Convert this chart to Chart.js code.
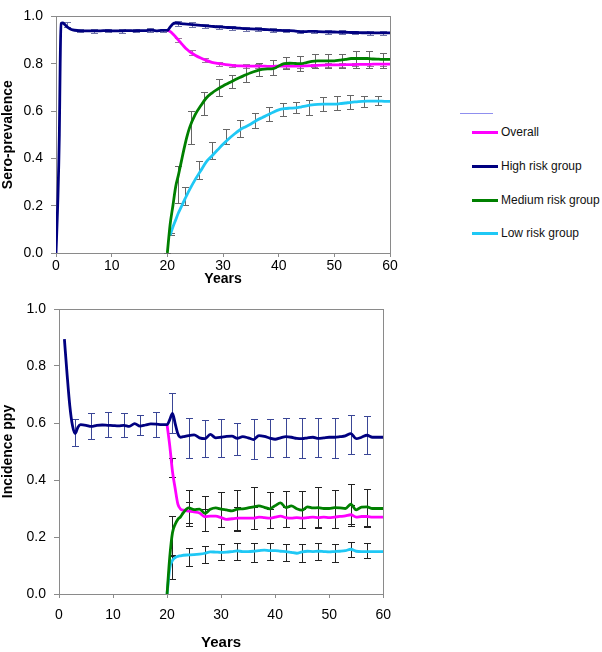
<!DOCTYPE html>
<html>
<head>
<meta charset="utf-8">
<script src="https://cdn.jsdelivr.net/npm/chart.js@4"></script>
<style>
  body { margin: 0; background: #fff; width: 602px; height: 652px; position: relative; overflow: hidden;
         font-family: "Liberation Sans", Arial, sans-serif; }
  #topChart { position: absolute; left: 0; top: 0; }
  #bottomChart { position: absolute; left: 0; top: 290px; }
  .legLine { position: absolute; height: 3px; width: 26px; left: 472px; }
  .legText { position: absolute; left: 501px; font-size: 12px; color: #111; line-height: 14px; }
</style>
</head>
<body>
<canvas id="topChart" width="400" height="290"></canvas>
<canvas id="bottomChart" width="400" height="362"></canvas>
<div id="legend"></div>
<script>
// series names + colours (legend order)
const seriesNames = ['Overall', 'High risk group', 'Medium risk group', 'Low risk group'];
const seriesColors = ['#FF00FF', '#000080', '#008000', '#1FC8F5'];

// ---- top chart: sero-prevalence ----
const yearsTopHigh = [0, 0.3, 0.6, 0.75, 0.9, 1.2, 1.6, 2, 2.5, 3,
  4, 5, 6, 7, 8, 9, 10, 11, 12, 13, 14, 15, 16, 17, 18, 19, 20,
  20.5, 21, 21.5, 22, 22.5, 23, 23.5, 24,
  25, 26, 27, 28, 29, 30, 31, 32, 33, 34, 35, 36, 37, 38, 39, 40, 41, 42,
  43, 44, 45, 46, 47, 48, 49, 50, 51, 52, 53, 54, 55, 56, 57, 58, 59, 60];
const highTop = [0, 0.2, 0.5, 0.8, 0.97, 0.972, 0.965, 0.956, 0.948, 0.943,
  0.94, 0.939, 0.939, 0.939, 0.939, 0.94, 0.939, 0.939, 0.939, 0.94, 0.939, 0.94, 0.94, 0.942, 0.939, 0.941, 0.941,
  0.955, 0.968, 0.972, 0.971, 0.969, 0.968, 0.967, 0.966,
  0.964, 0.962, 0.96, 0.958, 0.956, 0.955, 0.953, 0.952, 0.95, 0.948, 0.947, 0.946, 0.945, 0.944, 0.942, 0.941, 0.94, 0.94,
  0.938, 0.935, 0.936, 0.937, 0.936, 0.935, 0.934, 0.934, 0.933, 0.933, 0.932, 0.932, 0.931, 0.931, 0.93, 0.93, 0.93, 0.93];

const yearsTopLate = [20, 20.5, 21, 21.5, 22, 22.5, 23, 23.5, 24,
  25, 26, 27, 28, 29, 30, 31, 32, 33, 34, 35, 36, 37, 38, 39, 40, 41, 42,
  43, 44, 45, 46, 47, 48, 49, 50, 51, 52, 53, 54, 55, 56, 57, 58, 59, 60];
const overallTop = [0.941, 0.936, 0.926, 0.913, 0.9, 0.886, 0.873, 0.861, 0.851,
  0.836, 0.824, 0.814, 0.806, 0.801, 0.798, 0.795, 0.792, 0.791, 0.79, 0.79, 0.79, 0.79, 0.789, 0.789, 0.79, 0.79, 0.79,
  0.79, 0.79, 0.791, 0.792, 0.793, 0.794, 0.795, 0.795, 0.795, 0.796, 0.796, 0.797, 0.797, 0.797, 0.798, 0.798, 0.798, 0.798];
const mediumTop = [0, 0.12, 0.2, 0.28, 0.33, 0.385, 0.44, 0.49, 0.53,
  0.585, 0.622, 0.655, 0.676, 0.692, 0.706, 0.718, 0.73, 0.742, 0.752, 0.762, 0.77, 0.776, 0.778, 0.779, 0.79, 0.8, 0.802,
  0.801, 0.8, 0.805, 0.81, 0.812, 0.812, 0.812, 0.812, 0.815, 0.818, 0.822, 0.822, 0.822, 0.822, 0.82, 0.819, 0.818, 0.818];
const lowTop = [null, 0.075, 0.11, 0.14, 0.17, 0.195, 0.22, 0.245, 0.268,
  0.31, 0.348, 0.385, 0.41, 0.435, 0.46, 0.482, 0.502, 0.52, 0.533, 0.545, 0.56, 0.572, 0.583, 0.595, 0.605, 0.61, 0.612,
  0.613, 0.617, 0.622, 0.626, 0.628, 0.629, 0.629, 0.629, 0.631, 0.634, 0.637, 0.639, 0.641, 0.642, 0.642, 0.642, 0.641, 0.641];

// error bars: [year, low, high]
const errHighTop = [[1.9, 0.957, 0.975], [4.4, 0.932, 0.948], [6.9, 0.931, 0.947], [9.4, 0.932, 0.948], [11.8, 0.931, 0.947],
  [14.4, 0.932, 0.948], [16.9, 0.933, 0.949], [19.3, 0.932, 0.948], [22, 0.961, 0.979], [24.4, 0.957, 0.975],
  [26.8, 0.952, 0.968], [29.2, 0.948, 0.964], [31.6, 0.944, 0.96], [34.1, 0.94, 0.956], [36.3, 0.938, 0.954],
  [39, 0.934, 0.95], [41.4, 0.932, 0.948], [43.8, 0.928, 0.944], [46.4, 0.928, 0.944], [48.9, 0.927, 0.943],
  [51.3, 0.925, 0.941], [53.8, 0.924, 0.94], [56.4, 0.923, 0.939], [58.8, 0.922, 0.938]];
const errOverallTop = [[22, 0.89, 0.91], [24.4, 0.838, 0.856], [26.8, 0.808, 0.826], [29.2, 0.792, 0.808],
  [31.6, 0.786, 0.8], [34.1, 0.783, 0.797], [36.3, 0.783, 0.797], [39, 0.782, 0.796], [41.4, 0.783, 0.797],
  [43.8, 0.783, 0.797], [46.4, 0.785, 0.799], [48.9, 0.787, 0.801], [51.3, 0.788, 0.802], [53.8, 0.789, 0.803],
  [56.4, 0.79, 0.804], [58.8, 0.791, 0.805]];
const errMediumTop = [[20, 0, 0], [22, 0.21, 0.366], [24.2, 0.46, 0.6], [26.6, 0.584, 0.68], [29.2, 0.665, 0.736],
  [31.6, 0.696, 0.754], [34.1, 0.722, 0.795], [36.4, 0.75, 0.804], [39, 0.751, 0.815], [41.4, 0.776, 0.829],
  [43.8, 0.771, 0.831], [46.5, 0.781, 0.84], [48.9, 0.78, 0.843], [51.3, 0.78, 0.843], [53.9, 0.784, 0.852],
  [56.2, 0.784, 0.852], [58.8, 0.784, 0.847]];
const errLowTop = [[20.6, 0.075, 0.085], [23.2, 0.203, 0.278], [25.7, 0.314, 0.387], [28.1, 0.396, 0.468],
  [30.6, 0.459, 0.522], [33.1, 0.49, 0.563], [35.7, 0.53, 0.59], [38.2, 0.556, 0.617], [40.7, 0.581, 0.634],
  [43.1, 0.59, 0.637], [45.5, 0.584, 0.647], [47.9, 0.6, 0.658], [50.4, 0.604, 0.662], [52.8, 0.608, 0.668],
  [55.4, 0.615, 0.665], [57.9, 0.624, 0.665]];

// ---- bottom chart: incidence ppy ----
const yearsBotHigh = [1, 1.5, 2, 2.5, 3, 3.5, 4,
  5, 6, 7, 8, 9, 10, 11, 12, 13, 14, 15, 16, 17, 18, 19, 20,
  20.5, 21, 21.5, 22, 22.5, 23,
  24, 25, 26, 27, 28, 29, 30, 31, 32, 33, 34, 35, 36, 37, 38, 39, 40, 41, 42,
  43, 44, 45, 46, 47, 48, 49, 50, 51, 52, 53, 54, 55, 56, 57, 58, 59, 60];
const highBot = [0.894, 0.77, 0.66, 0.59, 0.563, 0.585, 0.594,
  0.592, 0.588, 0.592, 0.593, 0.592, 0.591, 0.59, 0.592, 0.588, 0.598, 0.589, 0.593, 0.597, 0.596, 0.594, 0.594,
  0.612, 0.634, 0.598, 0.562, 0.55, 0.552,
  0.556, 0.558, 0.548, 0.545, 0.56, 0.548, 0.55, 0.553, 0.554, 0.546, 0.552, 0.548, 0.542, 0.556, 0.553, 0.547, 0.543, 0.548, 0.552,
  0.55, 0.546, 0.545, 0.548, 0.55, 0.546, 0.548, 0.55, 0.55, 0.552, 0.555, 0.563, 0.545, 0.55, 0.557, 0.55, 0.55, 0.55];

const yearsBotLate = [20, 20.5, 21, 21.5, 22, 22.5, 23,
  24, 25, 26, 27, 28, 29, 30, 31, 32, 33, 34, 35, 36, 37, 38, 39, 40, 41, 42,
  43, 44, 45, 46, 47, 48, 49, 50, 51, 52, 53, 54, 55, 56, 57, 58, 59, 60];
const overallBot = [0.594, 0.52, 0.43, 0.37, 0.315, 0.298, 0.294,
  0.291, 0.288, 0.284, 0.271, 0.273, 0.273, 0.268, 0.262, 0.264, 0.266, 0.266, 0.266, 0.266, 0.27, 0.268, 0.266, 0.27, 0.273, 0.268,
  0.266, 0.268, 0.266, 0.268, 0.27, 0.268, 0.27, 0.268, 0.27, 0.272, 0.274, 0.278, 0.27, 0.272, 0.272, 0.27, 0.27, 0.27];
const mediumBot = [0, 0.13, 0.215, 0.245, 0.262, 0.271, 0.285,
  0.302, 0.296, 0.298, 0.283, 0.297, 0.302, 0.298, 0.295, 0.292, 0.298, 0.299, 0.302, 0.306, 0.309, 0.304, 0.299, 0.31, 0.32, 0.303,
  0.309, 0.299, 0.294, 0.306, 0.302, 0.303, 0.3, 0.3, 0.303, 0.302, 0.3, 0.315, 0.295, 0.305, 0.306, 0.3, 0.3, 0.3];
const lowBot = [0, 0.09, 0.118, 0.128, 0.132, 0.134, 0.136,
  0.137, 0.138, 0.14, 0.143, 0.148, 0.147, 0.146, 0.147, 0.149, 0.151, 0.149, 0.149, 0.15, 0.152, 0.154, 0.152, 0.152, 0.15, 0.149,
  0.146, 0.143, 0.148, 0.15, 0.149, 0.15, 0.149, 0.148, 0.149, 0.15, 0.152, 0.157, 0.15, 0.149, 0.149, 0.149, 0.149, 0.149];

const errHighBot = [[3, 0.519, 0.614], [6, 0.544, 0.635], [9, 0.551, 0.638], [12, 0.55, 0.635], [15, 0.558, 0.628],
  [18, 0.551, 0.638], [21, 0.565, 0.705], [24, 0.477, 0.617], [27, 0.48, 0.61], [30, 0.48, 0.614], [33, 0.488, 0.6],
  [36, 0.473, 0.614], [39, 0.48, 0.614], [42, 0.48, 0.617], [45, 0.477, 0.617], [48, 0.48, 0.617], [51, 0.477, 0.617],
  [54, 0.49, 0.628], [57, 0.49, 0.624]];
const errOverallBot = [[21, 0.41, 0.477], [24, 0.25, 0.323], [27, 0.221, 0.3], [30, 0.235, 0.3], [33, 0.225, 0.305],
  [36, 0.228, 0.305], [39, 0.23, 0.3], [42, 0.235, 0.305], [45, 0.232, 0.3], [48, 0.232, 0.305], [51, 0.232, 0.305],
  [54, 0.24, 0.312], [57, 0.236, 0.305]];
const errMediumBot = [[21, 0.137, 0.273], [24, 0.24, 0.365], [27, 0.22, 0.344], [30, 0.235, 0.358], [33, 0.22, 0.365],
  [36, 0.228, 0.375], [39, 0.232, 0.358], [42, 0.235, 0.361], [45, 0.23, 0.361], [48, 0.235, 0.375], [51, 0.23, 0.365],
  [54, 0.246, 0.386], [57, 0.24, 0.368]];
const errLowBot = [[21, 0.053, 0.133], [24, 0.1, 0.16], [27, 0.11, 0.17], [30, 0.12, 0.175], [33, 0.12, 0.18],
  [36, 0.112, 0.18], [39, 0.12, 0.178], [42, 0.116, 0.175], [45, 0.112, 0.175], [48, 0.12, 0.178], [51, 0.112, 0.175],
  [54, 0.13, 0.182], [57, 0.126, 0.178]];

const xTicks = [0, 10, 20, 30, 40, 50, 60];
const yTicks = [0, 0.2, 0.4, 0.6, 0.8, 1.0];

Chart.defaults.font.family = '"Liberation Sans", Arial, sans-serif';
Chart.defaults.color = '#000';

function pts(xs, ys) {
  return xs.map((x, i) => ({ x: x, y: ys[i] }));
}

function line(name, color, xs, ys, order) {
  return {
    label: name, data: pts(xs, ys), borderColor: color, backgroundColor: color,
    borderWidth: 2.8, pointRadius: 0, cubicInterpolationMode: 'monotone', spanGaps: false, order: order
  };
}

// draws whisker bars through the chart's own scales
function errorBars(groups) {
  return {
    id: 'errorBars',
    beforeDatasetsDraw(chart) {
      const ctx = chart.ctx, sx = chart.scales.x, sy = chart.scales.y;
      ctx.save();
      ctx.lineWidth = 1;
      groups.forEach(g => {
        ctx.strokeStyle = g.color;
        g.bars.forEach(b => {
          const px = Math.round(sx.getPixelForValue(b[0])) + 0.5;
          const p1 = Math.round(sy.getPixelForValue(b[1])) + 0.5;
          const p2 = Math.round(sy.getPixelForValue(b[2])) + 0.5;
          ctx.beginPath();
          ctx.moveTo(px, p1); ctx.lineTo(px, p2);
          ctx.moveTo(px - 3.5, p1); ctx.lineTo(px + 3.5, p1);
          ctx.moveTo(px - 3.5, p2); ctx.lineTo(px + 3.5, p2);
          ctx.stroke();
        });
      });
      ctx.restore();
    }
  };
}

const frame = {
  id: 'frame',
  beforeDatasetsDraw(chart) {
    const a = chart.chartArea, ctx = chart.ctx;
    ctx.save();
    ctx.strokeStyle = '#8a8a8a';
    ctx.lineWidth = 1;
    ctx.strokeRect(Math.round(a.left) + 0.5, Math.round(a.top) + 0.5, Math.round(a.right - a.left), Math.round(a.bottom - a.top));
    ctx.restore();
  }
};

function makeOptions(o) {
  return {
    responsive: false, animation: false, events: [],
    layout: { padding: { top: o.padTop, right: o.padRight, left: 0, bottom: 0 } },
    plugins: { legend: { display: false }, tooltip: { enabled: false } },
    scales: {
      x: {
        type: 'linear', min: 0, max: 60,
        afterBuildTicks(s) { s.ticks = xTicks.map(v => ({ value: v })); },
        ticks: { font: { size: 14 }, color: '#000', padding: o.xPad, maxRotation: 0 },
        grid: { drawOnChartArea: false, tickLength: 4, color: '#8a8a8a' },
        border: { color: '#8a8a8a' },
        title: { display: true, text: 'Years', color: '#000', font: { size: o.xTitleSize, weight: 'bold' },
                 padding: { top: 0, bottom: o.xTitleBottom } },
        afterFit(s) { s.height = o.xHeight; }
      },
      y: {
        min: 0, max: 1,
        afterBuildTicks(s) { s.ticks = yTicks.map(v => ({ value: v })); },
        ticks: { font: { size: 14 }, color: '#000', padding: 8, callback: v => v.toFixed(1) },
        grid: { drawOnChartArea: false, tickLength: 5, color: '#8a8a8a' },
        border: { color: '#8a8a8a' },
        title: { display: true, text: o.yTitle, color: '#000', font: { size: 14, weight: 'bold' },
                 padding: { top: 0, bottom: 0 } },
        afterFit(s) { s.width = o.yWidth; }
      }
    }
  };
}

new Chart(document.getElementById('topChart'), {
  type: 'line',
  data: {
    datasets: [
      line(seriesNames[0], seriesColors[0], yearsTopLate, overallTop, 2),
      line(seriesNames[1], seriesColors[1], yearsTopHigh, highTop, 0),
      line(seriesNames[2], seriesColors[2], yearsTopLate, mediumTop, 1),
      line(seriesNames[3], seriesColors[3], yearsTopLate, lowTop, 3)
    ]
  },
  options: makeOptions({ padTop: 8, padRight: 10, xPad: 1, xHeight: 37, xTitleSize: 14, xTitleBottom: 2,
                         yWidth: 56, yTitle: 'Sero-prevalence' }),
  plugins: [frame, errorBars([
    { color: '#6f74a8', bars: errHighTop },
    { color: '#9a7a9a', bars: errOverallTop },
    { color: '#666666', bars: errMediumTop },
    { color: '#666666', bars: errLowTop }
  ])]
});

new Chart(document.getElementById('bottomChart'), {
  type: 'line',
  data: {
    datasets: [
      line(seriesNames[0], seriesColors[0], yearsBotLate, overallBot, 2),
      line(seriesNames[1], seriesColors[1], yearsBotHigh, highBot, 0),
      line(seriesNames[2], seriesColors[2], yearsBotLate, mediumBot, 1),
      line(seriesNames[3], seriesColors[3], yearsBotLate, lowBot, 3)
    ]
  },
  options: makeOptions({ padTop: 19, padRight: 15, xPad: 9, xHeight: 58, xTitleSize: 15, xTitleBottom: 0,
                         yWidth: 59, yTitle: 'Incidence ppy' }),
  plugins: [frame, errorBars([
    { color: '#3a4696', bars: errHighBot },
    { color: '#222222', bars: errOverallBot },
    { color: '#222222', bars: errMediumBot },
    { color: '#222222', bars: errLowBot }
  ])]
});

// legend (right of the top chart)
const legend = document.getElementById('legend');
const legendY = [132, 166, 200, 233];
const blank = document.createElement('div');
blank.style.cssText = 'position:absolute;left:460px;top:113px;width:33px;height:1px;background:#8f8fef';
legend.appendChild(blank);
seriesNames.forEach((name, i) => {
  const l = document.createElement('div');
  l.className = 'legLine';
  l.style.top = (legendY[i] - 1.5) + 'px';
  l.style.background = seriesColors[i];
  legend.appendChild(l);
  const t = document.createElement('div');
  t.className = 'legText';
  t.style.top = (legendY[i] - 7) + 'px';
  t.textContent = name;
  legend.appendChild(t);
});
</script>
</body>
</html>
